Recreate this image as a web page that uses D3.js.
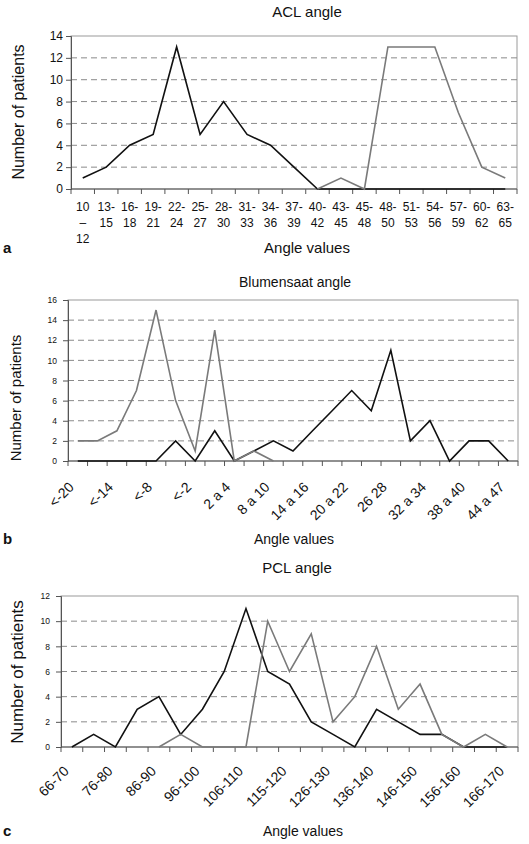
<!DOCTYPE html>
<html><head><meta charset="utf-8">
<script src="https://cdn.jsdelivr.net/npm/d3@7"></script>
<style>
body{margin:0;background:#fff}
svg{display:block}
text{font-family:"Liberation Sans",Arial,sans-serif;fill:#111}
</style>
</head><body>
<svg id="chart" width="529" height="844"></svg>
<script>
// ---------- Panel a: ACL angle ----------
const aclCategories = ["10 – 12","13-15","16-18","19-21","22-24","25-27","28-30","31-33","34-36","37-39","40-42","43-45","45-48","48-50","51-53","54-56","57-59","60-62","63-65"];
const aclBlack = [1,2,4,5,13,5,8,5,4,2,0,0,0,0,0,0,0,0,0];
const aclGray  = [null,null,null,null,null,null,null,null,null,null,0,1,0,13,13,13,7,2,1];
const aclTicks = [0,2,4,6,8,10,12,14];

// ---------- Panel b: Blumensaat angle ----------
const blumCategories = ["<-20","<-17","<-14","<-11","<-8","<-5","<-2","-1 a 1","2 a 4","5 a 7","8 a 10","11 a 13","14 a 16","17 a 19","20 a 22","23 a 25","26 28","29 a 31","32 a 34","35 a 37","38 a 40","41 a 43","44 a 47"];
const blumShown = ["<-20","<-14","<-8","<-2","2 a 4","8 a 10","14 a 16","20 a 22","26 28","32 a 34","38 a 40","44 a 47"];
const blumBlack = [0,0,0,0,0,2,0,3,0,1,2,1,3,5,7,5,11,2,4,0,2,2,0];
const blumGray  = [2,2,3,7,15,6,1,13,0,1,0,null,null,null,null,null,null,null,null,null,null,null,null];
const blumTicks = [0,2,4,6,8,10,12,14,16];

// ---------- Panel c: PCL angle ----------
const pclCategories = ["66-70","71-75","76-80","81-85","86-90","91-95","96-100","101-105","106-110","111-114","115-120","121-125","126-130","131-135","136-140","141-145","146-150","151-155","156-160","161-165","166-170"];
const pclShown = ["66-70","76-80","86-90","96-100","106-110","115-120","126-130","136-140","146-150","156-160","166-170"];
const pclBlack = [0,1,0,3,4,1,3,6,11,6,5,2,1,0,3,2,1,1,0,0,0];
const pclGray  = [null,null,null,null,0,1,0,0,0,10,6,9,2,4,8,3,5,1,0,1,0];
const pclTicks = [0,2,4,6,8,10,12];

const svg = d3.select("#chart");

function drawPanel(cfg){
  const g = svg.append("g");
  const x = d3.scaleBand().domain(cfg.categories).range([cfg.x0, cfg.x1]).padding(0);
  const y = d3.scaleLinear().domain([0, d3.max(cfg.ticks)]).range([cfg.yBot, cfg.yTop]);
  const cx = c => x(c) + x.bandwidth()/2;

  g.append("rect").attr("x", cfg.x0).attr("y", cfg.yTop)
    .attr("width", cfg.x1 - cfg.x0).attr("height", cfg.yBot - cfg.yTop)
    .attr("fill", "none").attr("stroke", "#9a9a9a").attr("stroke-width", 1);

  g.append("g").selectAll("line").data(cfg.ticks.filter(t => t > 0 && t < d3.max(cfg.ticks)))
    .join("line")
    .attr("x1", cfg.x0).attr("x2", cfg.x1)
    .attr("y1", d => y(d)).attr("y2", d => y(d))
    .attr("stroke", "#8a8a8a").attr("stroke-width", 1).attr("stroke-dasharray", "6,4");

  const ya = g.append("g").attr("transform", `translate(${cfg.x0},0)`)
    .call(d3.axisLeft(y).tickValues(cfg.ticks).tickSize(5).tickPadding(cfg.yPad));
  ya.select(".domain").attr("stroke", "#555");
  ya.selectAll(".tick line").attr("stroke", "#555");
  ya.selectAll("text").style("font-size", cfg.yFont + "px").attr("fill", "#111");

  const xa = g.append("g");
  xa.append("line").attr("x1", cfg.x0).attr("x2", cfg.x1)
    .attr("y1", cfg.yBot).attr("y2", cfg.yBot).attr("stroke", "#555").attr("stroke-width", 1.2);
  const bounds = cfg.categories.map(c => x(c)).concat([cfg.x1]);
  xa.selectAll("line.tk").data(bounds).join("line").attr("class","tk")
    .attr("x1", d => d).attr("x2", d => d)
    .attr("y1", cfg.yBot).attr("y2", cfg.yBot + 5).attr("stroke", "#555");

  if (cfg.rotated){
    xa.selectAll("text.lbl").data(cfg.shown).join("text").attr("class","lbl")
      .attr("text-anchor", "end")
      .attr("transform", d => `translate(${cx(d) + cfg.lblDx},${cfg.yBot + cfg.lblDy}) rotate(-45)`)
      .style("font-size", cfg.xFont + "px")
      .text(d => d);
  } else {
    cfg.categories.forEach(c => {
      const lines = c.includes(" ") ? c.split(" ") : [c.slice(0, c.indexOf("-")+1), c.slice(c.indexOf("-")+1)];
      const t = xa.append("text").attr("text-anchor", "middle").style("font-size", cfg.xFont + "px");
      lines.forEach((ln, i) => {
        t.append("tspan").attr("x", cx(c)).attr("y", cfg.lblY + i*cfg.lblStep).text(ln);
      });
    });
  }

  const line = d3.line().defined(d => d.v !== null).x(d => cx(d.c)).y(d => y(d.v));
  const series = [
    {vals: cfg.black, color: "#111"},
    {vals: cfg.gray, color: "#7a7a7a"}
  ];
  series.forEach(s => {
    g.append("path")
      .datum(cfg.categories.map((c,i) => ({c, v: s.vals[i]})))
      .attr("d", line).attr("fill", "none")
      .attr("stroke", s.color).attr("stroke-width", 1.6).attr("stroke-linejoin", "miter");
  });

  g.append("text").attr("x", cfg.titleX).attr("y", cfg.titleY).attr("text-anchor", "middle")
    .style("font-size", cfg.titleFont + "px").text(cfg.title);
  g.append("text").attr("text-anchor", "middle")
    .attr("transform", `translate(${cfg.ytX},${cfg.ytY}) rotate(-90)`)
    .style("font-size", cfg.ytFont + "px").text("Number of patients");
  g.append("text").attr("x", cfg.xtX).attr("y", cfg.xtY).attr("text-anchor", "middle")
    .style("font-size", cfg.xtFont + "px").text("Angle values");
  g.append("text").attr("x", 3).attr("y", cfg.xtY).style("font-size", "15px")
    .style("font-weight", "bold").text(cfg.letter);
}

drawPanel({
  categories: aclCategories, black: aclBlack, gray: aclGray, ticks: aclTicks,
  x0: 71, x1: 517, yTop: 36, yBot: 189, yFont: 12, yPad: 3,
  rotated: false, xFont: 12, lblY: 211, lblStep: 16,
  title: "ACL angle", titleX: 307, titleY: 17, titleFont: 15,
  ytX: 24, ytY: 112, ytFont: 16,
  xtX: 307, xtY: 253, xtFont: 15, letter: "a"
});

drawPanel({
  categories: blumCategories, shown: blumShown, black: blumBlack, gray: blumGray, ticks: blumTicks,
  x0: 68, x1: 518, yTop: 300, yBot: 461, yFont: 8.5, yPad: 6,
  rotated: true, xFont: 14, lblDx: -3, lblDy: 27,
  title: "Blumensaat angle", titleX: 295, titleY: 287, titleFont: 14,
  ytX: 21, ytY: 398, ytFont: 15,
  xtX: 294, xtY: 544, xtFont: 14, letter: "b"
});

drawPanel({
  categories: pclCategories, shown: pclShown, black: pclBlack, gray: pclGray, ticks: pclTicks,
  x0: 61, x1: 518, yTop: 596, yBot: 747, yFont: 8.5, yPad: 6,
  rotated: true, xFont: 14, lblDx: -2, lblDy: 25,
  title: "PCL angle", titleX: 297, titleY: 573, titleFont: 15,
  ytX: 23, ytY: 672, ytFont: 17,
  xtX: 303, xtY: 836, xtFont: 14, letter: "c"
});
</script>
</body></html>
